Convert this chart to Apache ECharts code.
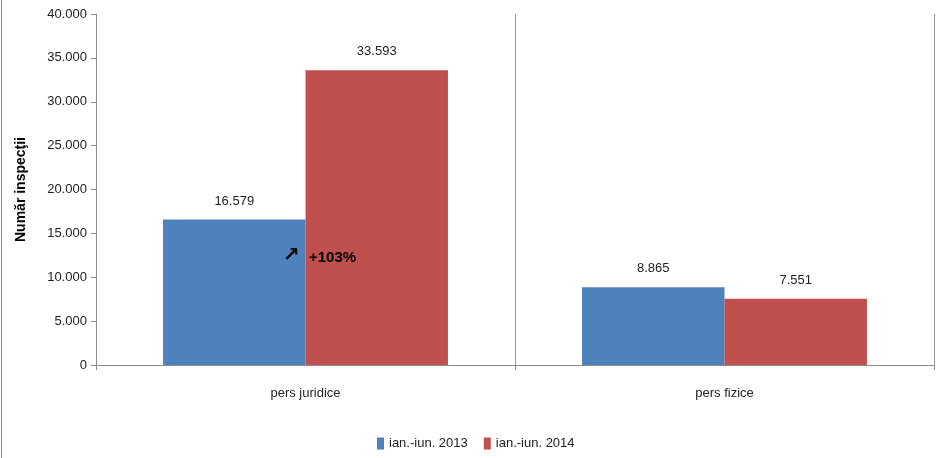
<!DOCTYPE html>
<html>
<head>
<meta charset="utf-8">
<script src="https://cdn.jsdelivr.net/npm/echarts@6/dist/echarts.min.js"></script>
<style>
  html, body { margin: 0; padding: 0; background: #fff; }
  #chart { width: 939px; height: 458px; }
</style>
</head>
<body>
<div id="chart"></div>
<script>
const categories = ["pers juridice", "pers fizice"];
const seriesNames = ["ian.-iun. 2013", "ian.-iun. 2014"];
const values2013 = [16579, 8865];
const values2014 = [33593, 7551];
const yTicks = [0, 5000, 10000, 15000, 20000, 25000, 30000, 35000, 40000];

const FONT = "'Liberation Sans', Arial, sans-serif";

function fmt(v) {
  return String(v).replace(/\B(?=(\d{3})+(?!\d))/g, ".");
}

const chart = echarts.init(document.getElementById("chart"));

chart.setOption({
  animation: false,
  textStyle: { fontFamily: FONT },
  grid: { left: 96, right: 5, top: 14, bottom: 93 },
  legend: {
    data: seriesNames,
    left: 372,
    bottom: 3,
    itemWidth: 7,
    itemHeight: 12,
    itemGap: 16,
    icon: "rect",
    textStyle: { fontSize: 13, color: "#222", fontFamily: FONT }
  },
  xAxis: {
    type: "category",
    data: categories,
    axisLine: { lineStyle: { color: "#8c8c8c" } },
    axisTick: { show: true, length: 5, lineStyle: { color: "#8c8c8c" } },
    splitLine: { show: true, lineStyle: { color: "#9a9a9a", width: 1 } },
    axisLabel: { margin: 22, fontSize: 13, color: "#222" }
  },
  yAxis: {
    type: "value",
    min: 0,
    max: yTicks[yTicks.length - 1],
    interval: yTicks[1] - yTicks[0],
    name: "Număr inspecţii",
    nameLocation: "middle",
    nameGap: 68,
    nameTextStyle: { fontSize: 14, fontWeight: "bold", color: "#000" },
    axisLine: { show: true, lineStyle: { color: "#8c8c8c" } },
    axisTick: { show: true, length: 5, lineStyle: { color: "#8c8c8c" } },
    splitLine: { show: false },
    axisLabel: { margin: 9, fontSize: 13, color: "#222", formatter: fmt }
  },
  series: [
    {
      name: seriesNames[0],
      type: "bar",
      data: values2013,
      barGap: "0%",
      barCategoryGap: "32%",
      itemStyle: { color: "#4f81bd" },
      label: { show: true, position: "top", distance: 12, fontSize: 13, color: "#222", formatter: p => fmt(p.value) }
    },
    {
      name: seriesNames[1],
      type: "bar",
      data: values2014,
      barGap: "0%",
      barCategoryGap: "32%",
      itemStyle: { color: "#c0504d" },
      label: { show: true, position: "top", distance: 12, fontSize: 13, color: "#222", formatter: p => fmt(p.value) }
    }
  ],
  graphic: [
    { type: "line", z: 100, shape: { x1: 1.5, y1: 0, x2: 1.5, y2: 458 }, style: { stroke: "#8c8c8c", lineWidth: 1 } },
    {
      type: "text",
      z: 100,
      left: 283,
      top: 246,
      style: { text: "↗", fontSize: 20, fontWeight: "bold", fill: "#000", fontFamily: "'DejaVu Sans', sans-serif" }
    },
    {
      type: "text",
      z: 100,
      left: 309,
      top: 250,
      style: { text: "+103%", fontSize: 15, fontWeight: "bold", fill: "#000", fontFamily: FONT }
    }
  ]
});
</script>
</body>
</html>
